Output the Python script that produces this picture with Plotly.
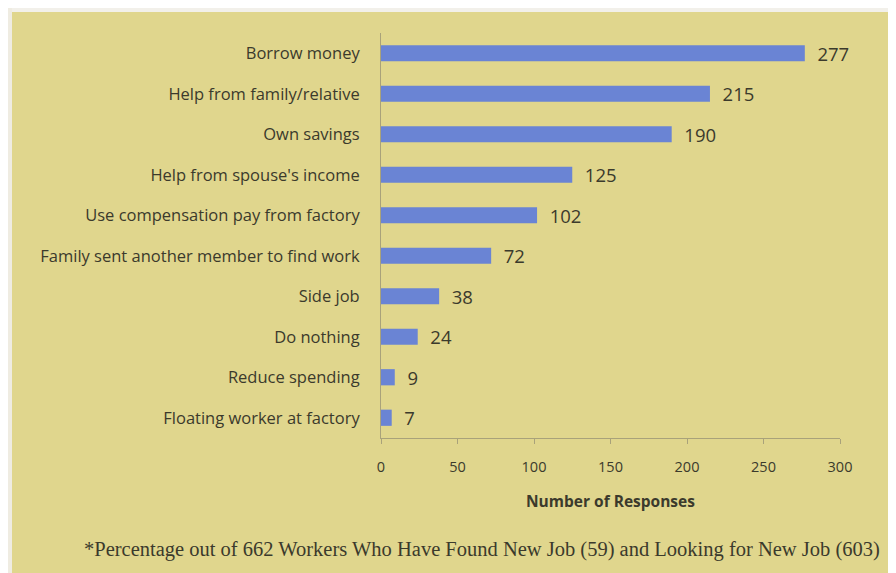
import plotly.graph_objects as go

categories = [
    "Borrow money",
    "Help from family/relative",
    "Own savings",
    "Help from spouse's income",
    "Use compensation pay from factory",
    "Family sent another member to find work",
    "Side job",
    "Do nothing",
    "Reduce spending",
    "Floating worker at factory",
]
responses = [277, 215, 190, 125, 102, 72, 38, 24, 9, 7]
x_ticks = [0, 50, 100, 150, 200, 250, 300]

BG = "#e0d68d"
BAR = "#6a84d4"
TXT = "#3b3a2c"
AXIS = "#a9a27a"

# page has an 8px body margin, so the figure is drawn 8px smaller
W, H = 888, 565
L, R, T, B = 373, 56, 25, 135
PW, PH = W - L - R, H - T - B

fig = go.Figure(
    go.Bar(
        x=responses,
        y=categories,
        orientation="h",
        marker=dict(color=BAR, line=dict(width=0)),
        width=0.4,
        texttemplate="  %{x}",
        textposition="outside",
        constraintext="none",
        textfont=dict(size=18.5, color=TXT, family="Open Sans"),
        cliponaxis=False,
    )
)

fig.update_layout(
    width=W,
    height=H,
    paper_bgcolor=BG,
    plot_bgcolor=BG,
    margin=dict(l=L, r=R, t=T, b=B, autoexpand=False),
    font=dict(family="Open Sans", color=TXT, size=14),
    showlegend=False,
    shapes=[
        # white strip along the top and left edge of the scan
        dict(type="rect", xref="paper", yref="paper", x0=-2, x1=2,
             y0=1 + (T - 4) / PH, y1=1 + T / PH, fillcolor="#f2f0ea", line=dict(width=0), layer="above"),
        dict(type="rect", xref="paper", yref="paper", x0=-L / PW, x1=-(L - 4) / PW,
             y0=-2, y1=2, fillcolor="#efece2", line=dict(width=0), layer="above"),
    ],
    annotations=[
        dict(
            text="Number of Responses",
            x=0.5, y=-63 / PH, xref="paper", yref="paper",
            showarrow=False, yanchor="middle",
            font=dict(size=15.5, color=TXT, family="Open Sans", weight="bold"),
        ),
        dict(
            text="*Percentage out of 662 Workers Who Have Found New Job (59) and Looking for New Job (603)",
            x=(474 - L) / PW, y=-111 / PH, xref="paper", yref="paper",
            showarrow=False, xanchor="center", yanchor="middle",
            font=dict(size=20.5, color=TXT, family="Liberation Serif"),
        ),
    ],
)

fig.update_xaxes(
    range=[0, 300],
    tickvals=x_ticks,
    showgrid=False,
    zeroline=False,
    showline=True,
    linecolor=AXIS,
    linewidth=1,
    ticks="outside",
    ticklen=5,
    tickcolor=AXIS,
    ticklabelstandoff=11,
    tickfont=dict(size=14.5, color=TXT),
    fixedrange=True,
)
fig.update_yaxes(
    autorange="reversed",
    showgrid=False,
    showline=True,
    linecolor=AXIS,
    linewidth=1,
    ticks="",
    ticklabelstandoff=17,
    tickfont=dict(size=16.5, color=TXT),
)

fig.write_html("out.html")
